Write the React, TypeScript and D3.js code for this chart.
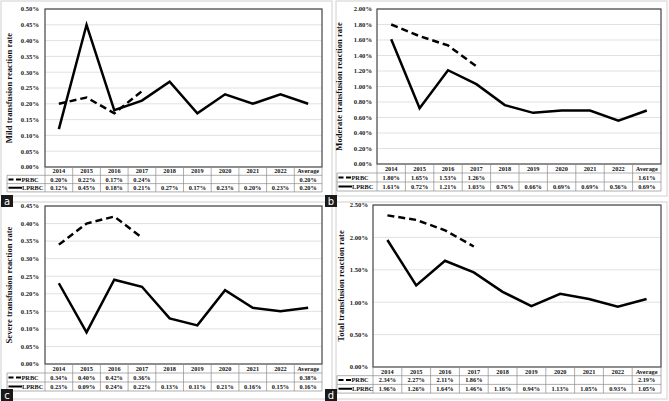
import React from 'react';
import * as d3 from 'd3';

const categories = ['2014', '2015', '2016', '2017', '2018', '2019', '2020', '2021', '2022', 'Average'];

// PRBC: only 2014-2017 plus average; null = empty
const mildPRBC = [0.20, 0.22, 0.17, 0.24, null, null, null, null, null, 0.20];
const mildLPRBC = [0.12, 0.45, 0.18, 0.21, 0.27, 0.17, 0.23, 0.20, 0.23, 0.20];
const moderatePRBC = [1.80, 1.65, 1.53, 1.26, null, null, null, null, null, 1.61];
const moderateLPRBC = [1.61, 0.72, 1.21, 1.03, 0.76, 0.66, 0.69, 0.69, 0.56, 0.69];
const severePRBC = [0.34, 0.40, 0.42, 0.36, null, null, null, null, null, 0.38];
const severeLPRBC = [0.23, 0.09, 0.24, 0.22, 0.13, 0.11, 0.21, 0.16, 0.15, 0.16];
const totalPRBC = [2.34, 2.27, 2.11, 1.86, null, null, null, null, null, 2.19];
const totalLPRBC = [1.96, 1.26, 1.64, 1.46, 1.16, 0.94, 1.13, 1.05, 0.93, 1.05];

const mildTicks = [0, 0.05, 0.10, 0.15, 0.20, 0.25, 0.30, 0.35, 0.40, 0.45, 0.50];
const moderateTicks = [0, 0.20, 0.40, 0.60, 0.80, 1.00, 1.20, 1.40, 1.60, 1.80, 2.00];
const severeTicks = [0, 0.05, 0.10, 0.15, 0.20, 0.25, 0.30, 0.35, 0.40, 0.45];
const totalTicks = [0, 0.50, 1.00, 1.50, 2.00, 2.50];

const FONT = '"Liberation Serif", "DejaVu Serif", serif';

interface PanelProps {
  title: string;
  prbc: (number | null)[];
  lprbc: (number | null)[];
  ticks: number[];
  left: number;
  right: number;
  top: number;
  bottom: number;
  tableLeft: number;
  rowH: number;
  tickX: number;
  titleX: number;
}

const Panel: React.FC<PanelProps> = ({
  title, prbc, lprbc, ticks, left, right, top, bottom, tableLeft, rowH, tickX, titleX,
}) => {
  const x = d3.scaleBand().domain(categories).range([left, right]);
  const y = d3.scaleLinear().domain([0, ticks[ticks.length - 1]]).range([bottom, top]);
  const cx = (c: string) => (x(c) as number) + x.bandwidth() / 2;

  const line = d3.line<[string, number]>()
    .x(d => cx(d[0]))
    .y(d => y(d[1]));

  const prbcPts = categories.slice(0, 4).map((c, i) => [c, prbc[i] as number] as [string, number]);
  const lprbcPts = categories.map((c, i) => [c, lprbc[i] as number] as [string, number]);

  const r1 = bottom + rowH;
  const r2 = r1 + rowH;
  const r3 = r2 + rowH;
  const fmt = (v: number | null) => (v == null ? '' : v.toFixed(2) + '%');
  const grid = '#d9d9d9';
  const cell = '#8c8c8c';

  return (
    <g fontFamily={FONT} fontWeight="bold">
      {ticks.map(t => (
        <g key={t}>
          {t > 0 && <line x1={left} x2={right} y1={y(t)} y2={y(t)} stroke={grid} strokeWidth={0.8} />}
          <text x={tickX} y={y(t) + 2.3} fontSize={6.6} textAnchor="end" fill="#222">{t.toFixed(2)}%</text>
        </g>
      ))}
      <text
        transform={`translate(${titleX},${(top + bottom) / 2}) rotate(-90)`}
        textAnchor="middle"
        fontSize={8.6}
        fill="#111"
      >{title}</text>

      <path d={line(prbcPts) || ''} fill="none" stroke="#000" strokeWidth={2.5} strokeDasharray="7,4" />
      <path d={line(lprbcPts) || ''} fill="none" stroke="#000" strokeWidth={2.5} strokeLinejoin="miter" />

      <rect x={left} y={top} width={right - left} height={bottom - top} fill="none" stroke="#444" strokeWidth={1.2} />

      {/* data table */}
      <line x1={tableLeft} x2={right} y1={r1} y2={r1} stroke={cell} strokeWidth={0.7} />
      <line x1={tableLeft} x2={right} y1={r2} y2={r2} stroke={cell} strokeWidth={0.7} />
      <line x1={tableLeft} x2={right} y1={r3} y2={r3} stroke={cell} strokeWidth={0.7} />
      <line x1={tableLeft} x2={tableLeft} y1={r1} y2={r3} stroke={cell} strokeWidth={0.7} />
      <line x1={right} x2={right} y1={bottom} y2={r3} stroke={cell} strokeWidth={0.7} />
      {categories.map(c => (
        <line key={c} x1={x(c) as number} x2={x(c) as number} y1={bottom} y2={r3} stroke={cell} strokeWidth={0.7} />
      ))}
      {categories.map((c, i) => (
        <g key={c} fontSize={6.3} textAnchor="middle" fill="#111">
          <text x={cx(c)} y={bottom + rowH - 2}>{c}</text>
          <text x={cx(c)} y={r1 + rowH - 2}>{fmt(prbc[i])}</text>
          <text x={cx(c)} y={r2 + rowH - 2}>{fmt(lprbc[i])}</text>
        </g>
      ))}
      <line x1={tableLeft + 1.5} x2={tableLeft + 14} y1={r1 + rowH / 2} y2={r1 + rowH / 2} stroke="#000" strokeWidth={2} strokeDasharray="5,2.5" />
      <text x={tableLeft + 14.5} y={r1 + rowH - 2} fontSize={6.3} fill="#111">PRBC</text>
      <line x1={tableLeft + 1.5} x2={tableLeft + 15} y1={r2 + rowH / 2} y2={r2 + rowH / 2} stroke="#000" strokeWidth={2} />
      <text x={tableLeft + 15} y={r2 + rowH - 2} fontSize={6.3} fill="#111">LPRBC</text>
    </g>
  );
};

const Tag: React.FC<{ x: number; y: number; label: string }> = ({ x, y, label }) => (
  <g>
    <rect x={x} y={y} width={12} height={12} fill="#1a1a1a" />
    <text x={x + 6} y={y + 9.5} textAnchor="middle" fontSize={10} fill="#fff" fontFamily='"DejaVu Sans", sans-serif'>{label}</text>
  </g>
);

export default function App() {
  return (
    <svg width={669} height={401} style={{ position: 'absolute', left: 0, top: 0, background: '#fff' }}>
      <rect x={1} y={1} width={331} height={195} fill="none" stroke="#d0d0d0" strokeWidth={1} />
      <rect x={336} y={1} width={331} height={195} fill="none" stroke="#d0d0d0" strokeWidth={1} />
      <rect x={1} y={202} width={331} height={197} fill="none" stroke="#d0d0d0" strokeWidth={1} />
      <rect x={336} y={202} width={331} height={197} fill="none" stroke="#d0d0d0" strokeWidth={1} />

      <Panel title="Mild transfusion reaction rate" prbc={mildPRBC} lprbc={mildLPRBC} ticks={mildTicks}
        left={45} right={322} top={9} bottom={167} tableLeft={7} rowH={8.3} tickX={39} titleX={12} />
      <Panel title="Moderate transfusion reaction rate" prbc={moderatePRBC} lprbc={moderateLPRBC} ticks={moderateTicks}
        left={377} right={661} top={9} bottom={164} tableLeft={337} rowH={9} tickX={372} titleX={342} />
      <Panel title="Severe transfusion reaction rate" prbc={severePRBC} lprbc={severeLPRBC} ticks={severeTicks}
        left={45} right={322} top={206} bottom={364} tableLeft={7} rowH={9} tickX={39} titleX={12} />
      <Panel title="Total transfusion reaction rate" prbc={totalPRBC} lprbc={totalLPRBC} ticks={totalTicks}
        left={373} right={661} top={205} bottom={367} tableLeft={337} rowH={8.7} tickX={368} titleX={344} />

      <Tag x={1} y={195} label="a" />
      <Tag x={325} y={195} label="b" />
      <Tag x={1} y={389} label="c" />
      <Tag x={325} y={389} label="d" />
    </svg>
  );
}
